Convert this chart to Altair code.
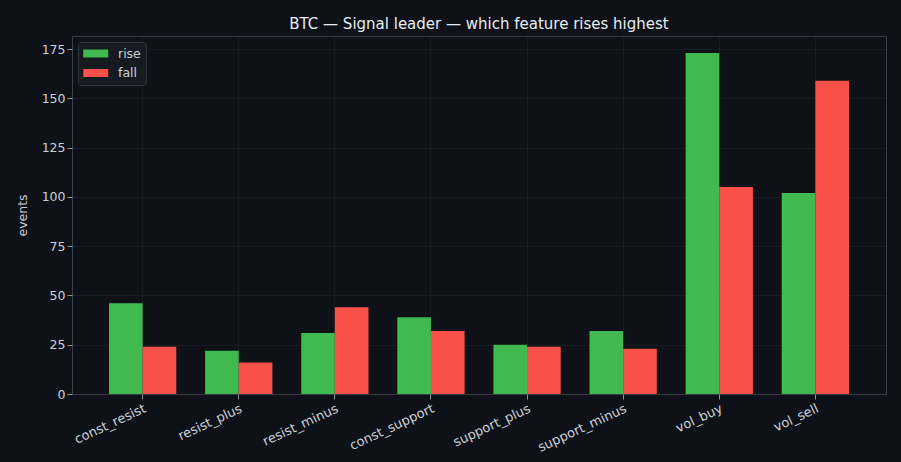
import altair as alt
import pandas as pd
import jinja2

# data
features = ["const_resist", "resist_plus", "resist_minus", "const_support",
            "support_plus", "support_minus", "vol_buy", "vol_sell"]
rise = [46, 22, 31, 39, 25, 32, 173, 102]
fall = [24, 16, 44, 32, 24, 23, 105, 159]
kinds = ["rise", "fall"]
y_ticks = [0, 25, 50, 75, 100, 125, 150, 175]

BG = "#0e1117"
TXT = "#e6edf3"
LBL = "#c9d1d9"
GREEN = "#3fb950"
RED = "#f85149"

df = pd.DataFrame({
    "feature": features * 2,
    "kind": ["rise"] * len(features) + ["fall"] * len(features),
    "events": rise + fall,
})

bars = (
    alt.Chart(df)
    .mark_bar()
    .encode(
        x=alt.X("feature:N", sort=features, title=None,
                scale=alt.Scale(paddingInner=0.3, paddingOuter=0.385),
                axis=alt.Axis(labelAngle=335, labelAlign="right", labelBaseline="top",
                              labelPadding=3, labelFontSize=13, bandPosition=0.5, grid=True)),
        xOffset=alt.XOffset("kind:N", sort=kinds,
                            scale=alt.Scale(paddingInner=0, paddingOuter=0)),
        y=alt.Y("events:Q", scale=alt.Scale(domain=[0, 181.65], nice=False),
                axis=alt.Axis(values=y_ticks, title="events", titleX=-43, titleY=179)),
        color=alt.Color("kind:N", sort=kinds,
                        scale=alt.Scale(domain=kinds, range=[GREEN, RED]),
                        legend=alt.Legend(title=None, orient="top-left", offset=6,
                                          padding=5, fillColor="#161b22", strokeColor="#30363d",
                                          cornerRadius=3, symbolType="M-1,-0.64H3V0.64H-1Z",
                                          symbolSize=156, symbolStrokeWidth=0, symbolOpacity=1,
                                          labelOffset=22, rowPadding=6.5)),
    )
    .properties(
        width=814, height=358,
        title="BTC — Signal leader — which feature rises highest",
        autosize=alt.AutoSizeParams(type="none"),
        padding={"left": 64, "top": 28, "right": 7, "bottom": 60},
    )
)

chart = (
    bars.configure(background=BG, font="DejaVu Sans")
    .configure_view(stroke="#3a3f48", strokeWidth=1)
    .configure_axis(gridColor="#30363d", gridOpacity=0.3, domain=False, zindex=1,
                    labelColor=LBL, titleColor=LBL, tickColor="#8b949e", tickSize=5,
                    labelFontSize=12.5, titleFontSize=12.5, titleFontWeight="normal")
    .configure_legend(labelColor=LBL, labelFontSize=12.5)
    .configure_title(color=TXT, fontSize=15, fontWeight="normal", offset=4, anchor="middle")
)

# same page as altair's default, with the dark page background
page = jinja2.Template("""<!DOCTYPE html>
<html>
<head>
  <style>body { background: #0e1117; }</style>
  <script type="text/javascript" src="{{ base_url }}/vega@{{ vega_version }}"></script>
  <script type="text/javascript" src="{{ base_url }}/vega-lite@{{ vegalite_version }}"></script>
  <script type="text/javascript" src="{{ base_url }}/vega-embed@{{ vegaembed_version }}"></script>
</head>
<body>
  <div id="{{ output_div }}"></div>
  <script type="text/javascript">
    vegaEmbed("#{{ output_div }}", {{ spec }}, {{ embed_options }}).catch(console.error);
  </script>
</body>
</html>""")

chart.save("out.html", embed_options={"renderer": "svg", "actions": False}, template=page)
